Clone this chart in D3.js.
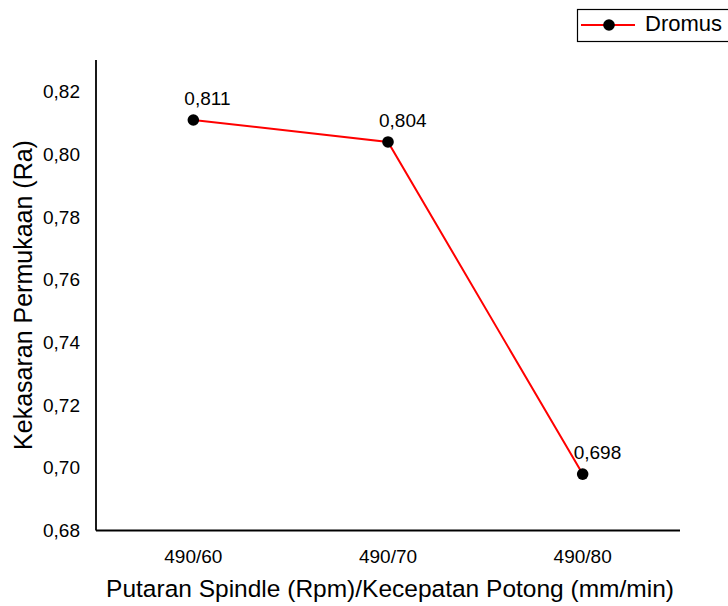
<!DOCTYPE html>
<html>
<head>
<meta charset="utf-8">
<script src="https://d3js.org/d3.v7.min.js"></script>
<style>
  body { margin: 0; background: #fff; }
  svg { font-family: "Liberation Sans", Arial, sans-serif; }
</style>
</head>
<body>
<svg id="chart" width="728" height="606"></svg>
<script>
var categories = ['490/60', '490/70', '490/80'];
var values = [0.811, 0.804, 0.698];
var valueLabels = ['0,811', '0,804', '0,698'];
var yTicks = [0.68, 0.70, 0.72, 0.74, 0.76, 0.78, 0.80, 0.82];
var seriesName = 'Dromus';

var svg = d3.select('#chart');
var plotLeft = 96, plotRight = 680, plotBottom = 530.5, plotTop = 60;

var x = d3.scaleBand().domain(categories).range([plotLeft, plotRight]);
var y = d3.scaleLinear().domain([0.68, 0.82]).range([plotBottom, 91.8]);

var fmt = d => d3.format('.2f')(d).replace('.', ',');
var font = 'Liberation Sans, Arial, sans-serif';

// y axis
var yAxis = svg.append('g')
  .attr('transform', `translate(${plotLeft},0)`)
  .call(d3.axisLeft(y).tickValues(yTicks).tickFormat(fmt).tickSize(0).tickPadding(16));
yAxis.select('.domain').remove();
yAxis.selectAll('text').attr('font-size', 19).attr('fill', '#000').attr('font-family', font);
svg.append('line')
  .attr('x1', plotLeft).attr('x2', plotLeft).attr('y1', plotTop).attr('y2', plotBottom)
  .attr('stroke', '#000').attr('stroke-width', 1.8);

// x axis
var xAxis = svg.append('g')
  .attr('transform', `translate(0,${plotBottom})`)
  .call(d3.axisBottom(x).tickSize(0).tickPadding(19));
xAxis.select('.domain').remove();
xAxis.selectAll('text').attr('font-size', 19).attr('fill', '#000').attr('font-family', font);
svg.append('line')
  .attr('x1', plotLeft).attr('x2', plotRight).attr('y1', plotBottom).attr('y2', plotBottom)
  .attr('stroke', '#000').attr('stroke-width', 1.8);

// titles
svg.append('text')
  .attr('x', 390).attr('y', 597)
  .attr('text-anchor', 'middle').attr('font-size', 24.5)
  .text('Putaran Spindle (Rpm)/Kecepatan Potong (mm/min)');
svg.append('text')
  .attr('transform', 'translate(32,295) rotate(-90)')
  .attr('text-anchor', 'middle').attr('font-size', 25)
  .text('Kekasaran Permukaan (Ra)');

// line
var cx = d => x(d) + x.bandwidth() / 2;
var line = d3.line()
  .x((d, i) => cx(categories[i]))
  .y(d => y(d));
svg.append('path')
  .datum(values)
  .attr('d', line)
  .attr('fill', 'none')
  .attr('stroke', '#ff0000')
  .attr('stroke-width', 2);

svg.selectAll('.pt')
  .data(values)
  .enter()
  .append('circle')
  .attr('class', 'pt')
  .attr('cx', (d, i) => cx(categories[i]))
  .attr('cy', d => y(d))
  .attr('r', 5.8)
  .attr('fill', '#000');

svg.selectAll('.lbl')
  .data(values)
  .enter()
  .append('text')
  .attr('class', 'lbl')
  .attr('x', (d, i) => cx(categories[i]) - 9)
  .attr('y', d => y(d) - 15)
  .attr('font-size', 19)
  .text((d, i) => valueLabels[i]);

// legend
var lg = svg.append('g').attr('transform', 'translate(577,9)');
lg.append('rect')
  .attr('x', 0.5).attr('y', 0.5).attr('width', 170).attr('height', 32)
  .attr('fill', '#fff').attr('stroke', '#000').attr('stroke-width', 1.2);
lg.append('line')
  .attr('x1', 4).attr('x2', 58).attr('y1', 16).attr('y2', 16)
  .attr('stroke', '#ff0000').attr('stroke-width', 2);
lg.append('circle').attr('cx', 32).attr('cy', 16).attr('r', 5.8).attr('fill', '#000');
lg.append('text')
  .attr('x', 68).attr('y', 22)
  .attr('font-size', 22)
  .text(seriesName);
</script>
</body>
</html>
